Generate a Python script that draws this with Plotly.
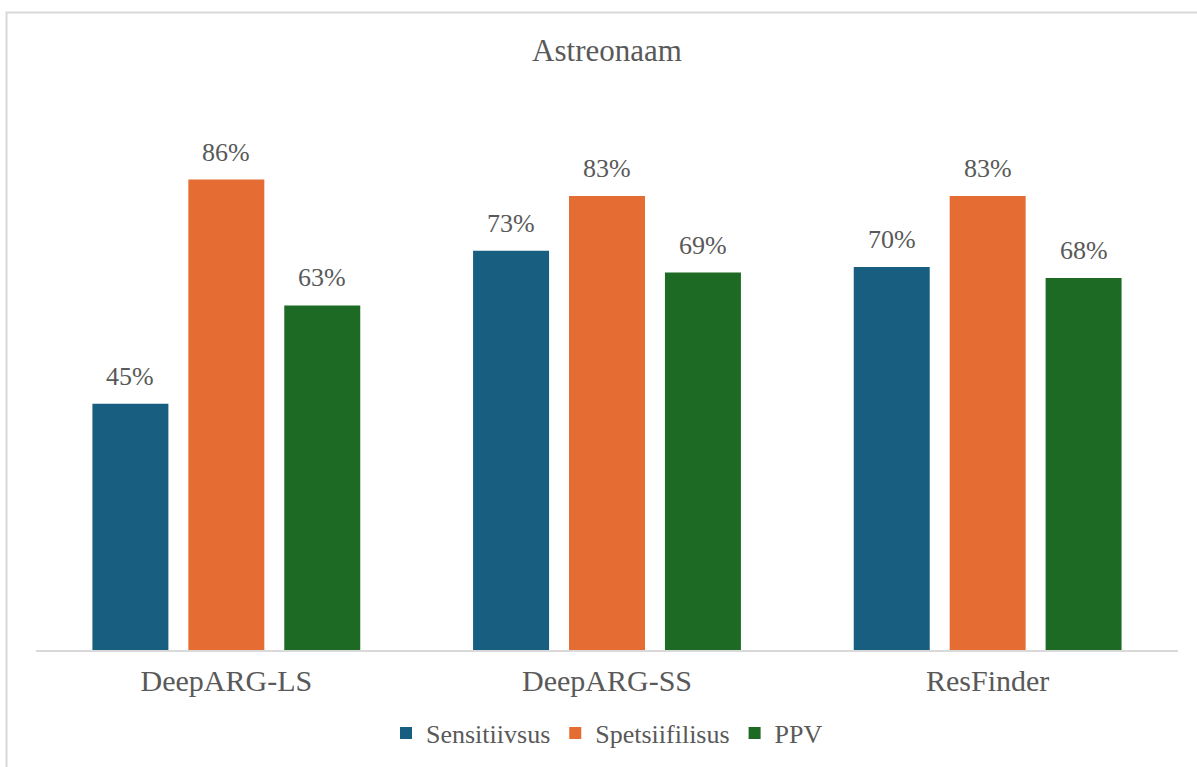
import plotly.graph_objects as go

# Tool names on the category axis
categories = ["DeepARG-LS", "DeepARG-SS", "ResFinder"]

# Metric values per tool (fractions)
sensitiivsus = [0.45, 0.73, 0.70]
spetsiifilisus = [0.86, 0.83, 0.83]
ppv = [0.63, 0.69, 0.68]

series_names = ["Sensitiivsus", "Spetsiifilisus", "PPV"]
series_values = [sensitiivsus, spetsiifilisus, ppv]
series_colors = ["#175e80", "#e56d33", "#1c6a24"]

text_color = "#595959"
font_family = "Liberation Serif, Times New Roman, serif"

BARGAP = 0.244
BARGROUPGAP = 0.208

fig = go.Figure()
for name, vals, color in zip(series_names, series_values, series_colors):
    fig.add_trace(go.Bar(
        x=categories,
        y=vals,
        name=name,
        marker=dict(color=color, line=dict(width=0)),
        hovertemplate="%{x}: %{y:.0%}<extra>" + name + "</extra>",
    ))

# Value labels above each bar, placed at the grouped bar centres
n_series = len(series_names)
slot = (1 - BARGAP) / n_series
annotations = []
for j, vals in enumerate(series_values):
    offset = (j - (n_series - 1) / 2) * slot
    for i, v in enumerate(vals):
        annotations.append(dict(
            x=i + offset, y=v, xref="x", yref="y",
            text=f"{round(v * 100)}%",
            showarrow=False,
            xanchor="center", yanchor="bottom",
            yshift=11,
            font=dict(family=font_family, size=26, color=text_color),
        ))

fig.update_layout(
    width=1197,
    height=767,
    margin=dict(l=36, r=19, t=103, b=117, autoexpand=False),
    paper_bgcolor="white",
    plot_bgcolor="white",
    barmode="group",
    bargap=BARGAP,
    bargroupgap=BARGROUPGAP,
    title=dict(
        text="Astreonaam",
        x=0.5, xanchor="center", xref="paper",
        y=1 - 50 / 767, yanchor="middle", yref="container",
        font=dict(family=font_family, size=31, color=text_color),
    ),
    font=dict(family=font_family, size=26, color=text_color),
    showlegend=True,
    legend=dict(
        orientation="h",
        x=0.5, xanchor="center",
        y=-0.152, yanchor="middle",
        font=dict(family=font_family, size=26, color=text_color),
        traceorder="normal",
    ),
    xaxis=dict(
        showline=True,
        linecolor="#d9d9d9",
        linewidth=1.5,
        showgrid=False,
        ticks="",
        ticklabelstandoff=3,
        tickfont=dict(family=font_family, size=30, color=text_color),
    ),
    yaxis=dict(
        range=[0, 1],
        visible=False,
        showgrid=False,
        zeroline=False,
    ),
    annotations=annotations,
    shapes=[
        # chart frame (left and top edges visible)
        dict(
            type="rect", xref="paper", yref="paper",
            x0=-0.0258, x1=1.05, y0=-0.35, y1=1.1654,
            line=dict(color="#d9d9d9", width=2),
            fillcolor="rgba(0,0,0,0)",
            layer="below",
        )
    ],
)

fig.write_html("out.html")
